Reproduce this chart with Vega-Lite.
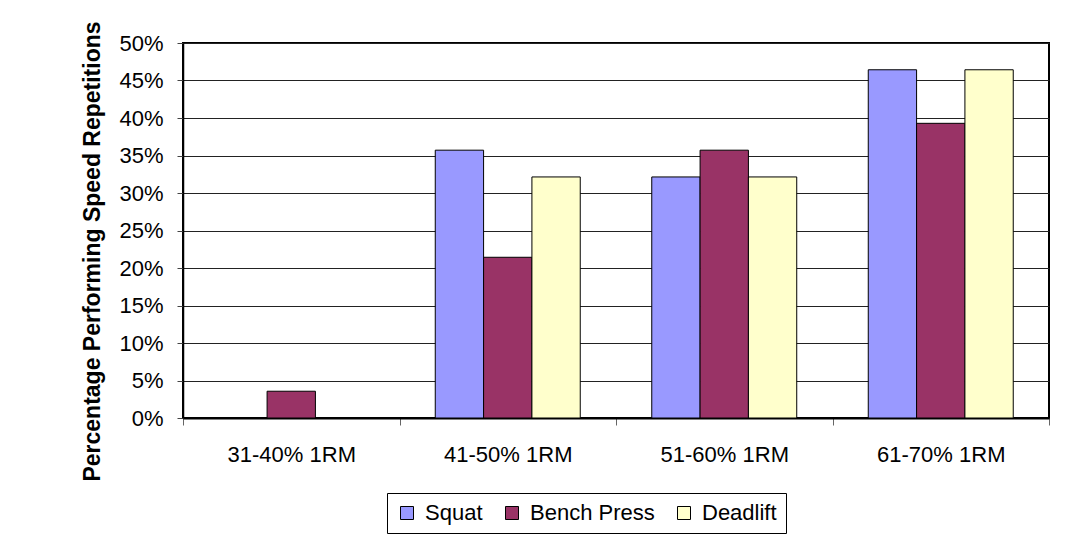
{
  "$schema": "https://vega.github.io/schema/vega-lite/v6.json",
  "autosize": {"type": "none"},
  "padding": {"left": 183, "top": 43, "right": 37, "bottom": 122},
  "width": 866,
  "height": 375,
  "background": "white",
  "data": {
    "values": [
      {"range": "31-40% 1RM", "lift": "Squat", "pct": 0},
      {"range": "31-40% 1RM", "lift": "Bench Press", "pct": 0.0357},
      {"range": "31-40% 1RM", "lift": "Deadlift", "pct": 0},
      {"range": "41-50% 1RM", "lift": "Squat", "pct": 0.3571},
      {"range": "41-50% 1RM", "lift": "Bench Press", "pct": 0.2143},
      {"range": "41-50% 1RM", "lift": "Deadlift", "pct": 0.3214},
      {"range": "51-60% 1RM", "lift": "Squat", "pct": 0.3214},
      {"range": "51-60% 1RM", "lift": "Bench Press", "pct": 0.3571},
      {"range": "51-60% 1RM", "lift": "Deadlift", "pct": 0.3214},
      {"range": "61-70% 1RM", "lift": "Squat", "pct": 0.4643},
      {"range": "61-70% 1RM", "lift": "Bench Press", "pct": 0.3929},
      {"range": "61-70% 1RM", "lift": "Deadlift", "pct": 0.4643}
    ]
  },
  "mark": {"type": "bar", "stroke": "#000000", "strokeWidth": 1},
  "encoding": {
    "x": {
      "field": "range",
      "type": "nominal",
      "sort": null,
      "scale": {"paddingInner": 0, "paddingOuter": 0},
      "axis": {
        "title": null,
        "labelAngle": 0,
        "tickBand": "extent",
        "grid": false,
        "domainColor": "#000000",
        "domainWidth": 2,
        "tickColor": "#666666",
        "tickSize": 7,
        "labelPadding": 19,
        "labelFont": "Liberation Sans",
        "labelFontSize": 22,
        "labelColor": "#000000"
      }
    },
    "xOffset": {
      "field": "lift",
      "type": "nominal",
      "sort": ["Squat", "Bench Press", "Deadlift"],
      "scale": {"paddingInner": 0, "paddingOuter": 0.74}
    },
    "y": {
      "field": "pct",
      "type": "quantitative",
      "scale": {"domain": [0, 0.5], "nice": false},
      "axis": {
        "title": "Percentage Performing Speed Repetitions",
        "titleFont": "Liberation Sans",
        "titleFontSize": 23,
        "titleFontWeight": "bold",
        "titleColor": "#000000",
        "titleX": -79,
        "titleY": 208,
        "titleAngle": -90,
        "titleAlign": "center",
        "titleBaseline": "bottom",
        "values": [0, 0.05, 0.1, 0.15, 0.2, 0.25, 0.3, 0.35, 0.4, 0.45, 0.5],
        "format": ".0%",
        "grid": true,
        "gridColor": "#222222",
        "gridWidth": 1,
        "domainColor": "#000000",
        "domainWidth": 1.5,
        "tickColor": "#444444",
        "tickSize": 6,
        "labelPadding": 14,
        "labelFont": "Liberation Sans",
        "labelFontSize": 22,
        "labelColor": "#000000"
      }
    },
    "fill": {
      "field": "lift",
      "type": "nominal",
      "sort": ["Squat", "Bench Press", "Deadlift"],
      "scale": {
        "domain": ["Squat", "Bench Press", "Deadlift"],
        "range": ["#9999FF", "#993366", "#FFFFCC"]
      },
      "legend": {
        "title": null,
        "orient": "none",
        "legendX": 204,
        "legendY": 450,
        "direction": "horizontal",
        "symbolType": "square",
        "symbolSize": 169,
        "symbolStrokeColor": "#000000",
        "symbolStrokeWidth": 1,
        "symbolOpacity": 1,
        "labelFont": "Liberation Sans",
        "labelFontSize": 22,
        "labelColor": "#000000",
        "labelOffset": 7,
        "columnPadding": 18,
        "padding": 9,
        "strokeColor": "#000000",
        "fillColor": "#ffffff"
      }
    }
  },
  "config": {
    "view": {"stroke": "#000000", "strokeWidth": 2},
    "bar": {"fillOpacity": 1}
  }
}
